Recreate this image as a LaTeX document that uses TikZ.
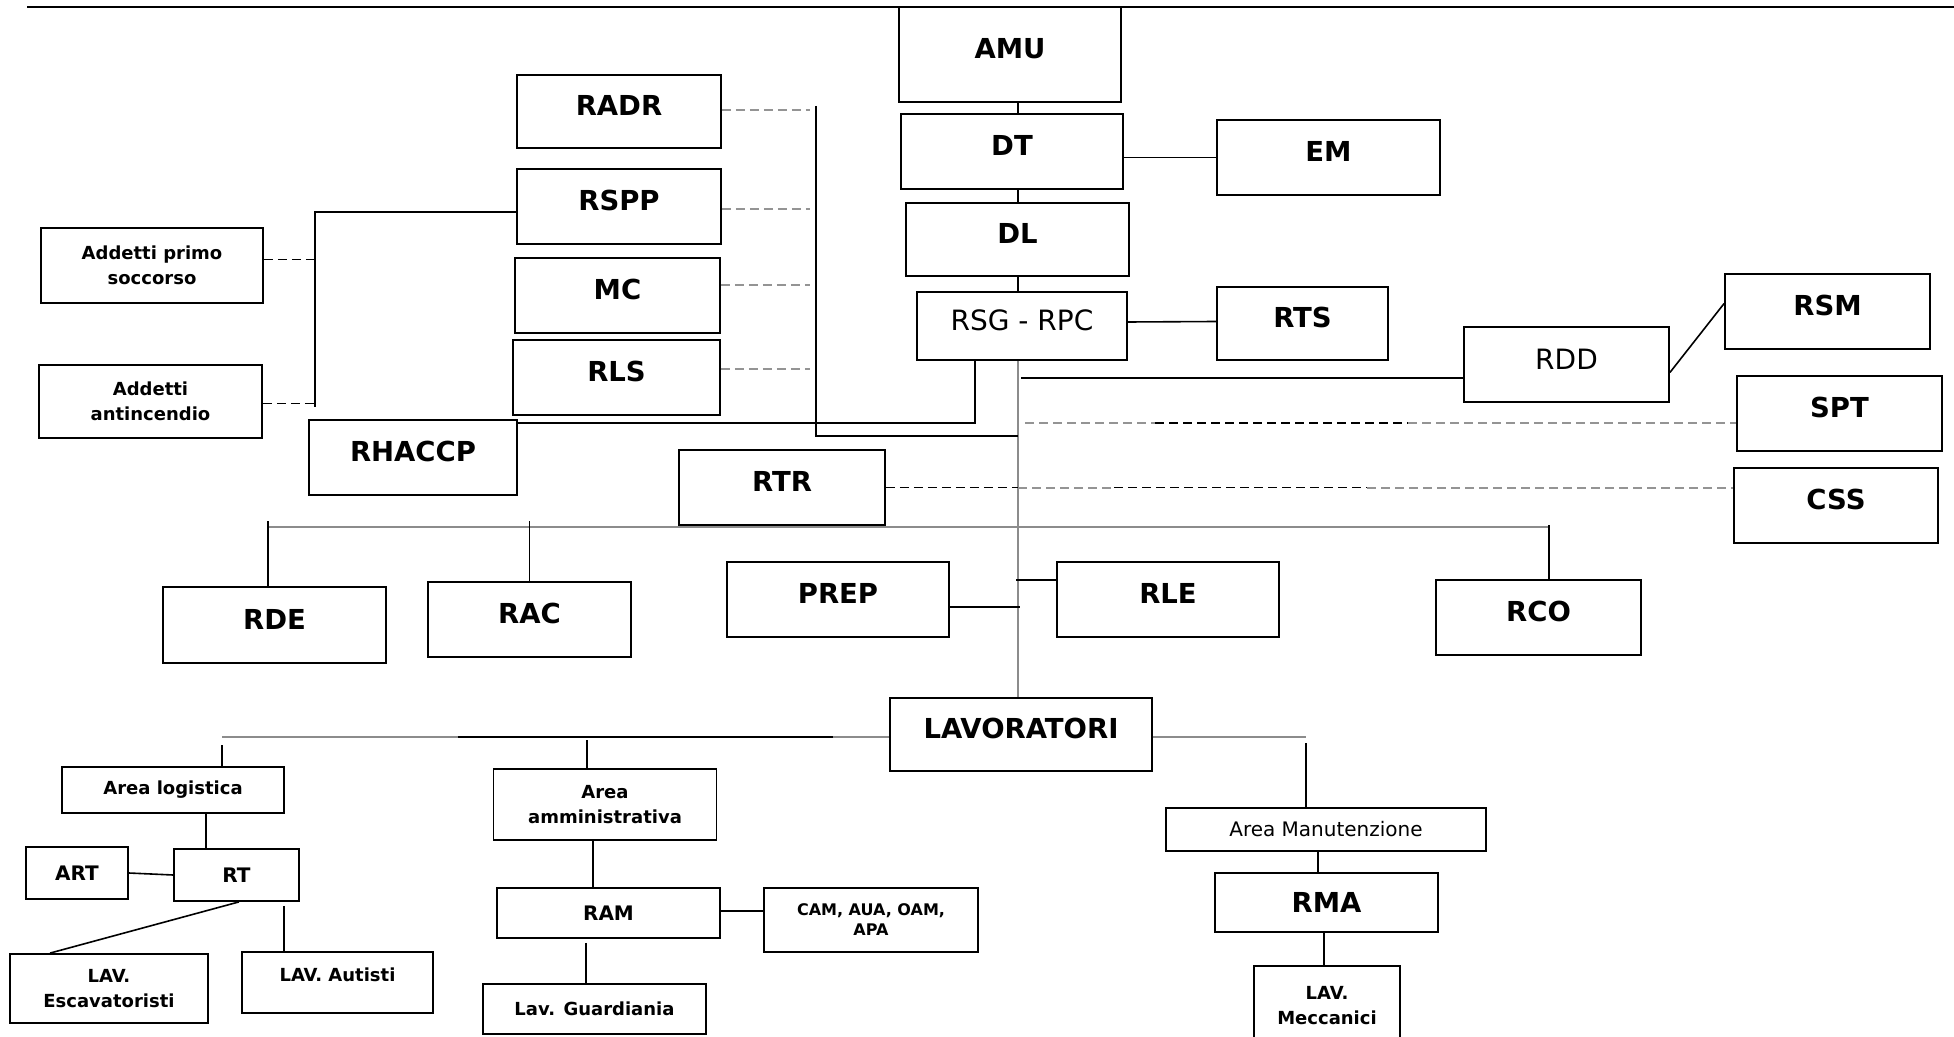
\documentclass[tikz,border=0pt]{standalone}
\usepackage{fontspec}
\setmainfont{DejaVu Sans}
\usepackage{xcolor}
\usetikzlibrary{calc}

\definecolor{linegray}{gray}{0.55}
\definecolor{dashgray}{gray}{0.58}

\tikzset{
	box/.style 2 args = {draw, line width = 0.9pt, inner sep = 0pt, align = center,
		minimum width = #1*0.5pt, minimum height = #2*0.5pt},
	bigtxt/.style = {font = \fontsize{13.75}{16}\selectfont\bfseries, text height = 10pt, text depth = 6pt},
	plaintxt/.style = {font = \fontsize{14}{16}\selectfont, text height = 10pt, text depth = 5pt},
	smalltxt/.style = {font = \fontsize{9}{12.5}\selectfont\bfseries},
	midtxt/.style = {font = \fontsize{10}{12.5}\selectfont\bfseries},
	tinytxt/.style = {font = \fontsize{8}{10}\selectfont\bfseries},
	conn/.style = {line width = 0.8pt},
	gray conn/.style = {line width = 0.9pt, linegray},
	gray dash/.style = {line width = 1pt, dashgray, dash pattern = on 4.5pt off 2.5pt},
	black dash/.style = {line width = 0.8pt, dash pattern = on 4.5pt off 2.5pt}
}

\begin{document}
\begin{tikzpicture}[x = 0.5pt, y = -0.5pt]
		\useasboundingbox (0,0) rectangle (1954,1037);
		
		\coordinate (rule left) at (27,7);
		\coordinate (rule right) at (1954,7);
		\draw [line width = 1pt] (rule left) -- (rule right);
		
		%main chain
		\node [box = {222}{95}, bigtxt] (amu) at (1010,54.5) {AMU};
		\node [box = {222}{75}, bigtxt] (dt) at (1012,151.5) {DT};
		\node [box = {223}{73}, bigtxt] (dl) at (1017.5,239.5) {DL};
		\node [box = {210}{68}, plaintxt] (rsg) at (1022,326) {RSG - RPC};
		\node [box = {223}{75}, bigtxt] (em) at (1328.5,157.5) {EM};
		\node [box = {171}{73}, bigtxt] (rts) at (1302.5,323.5) {RTS};
		\node [box = {205}{75}, plaintxt] (rdd) at (1566.5,364.5) {RDD};
		\node [box = {205}{75}, bigtxt] (rsm) at (1827.5,311.5) {RSM};
		\node [box = {205}{75}, bigtxt] (spt) at (1839.5,413.5) {SPT};
		\node [box = {204}{75}, bigtxt] (css) at (1836,505.5) {CSS};
		
		%staff
		\node [box = {204}{73}, bigtxt] (radr) at (619,111.5) {RADR};
		\node [box = {204}{75}, bigtxt] (rspp) at (619,206.5) {RSPP};
		\node [box = {205}{75}, bigtxt] (mc) at (617.5,295.5) {MC};
		\node [box = {207}{75}, bigtxt] (rls) at (616.5,377.5) {RLS};
		\node [box = {222}{75}, smalltxt] (primo) at (152,265.5) {Addetti primo\\soccorso};
		\node [box = {223}{73}, smalltxt] (antincendio) at (150.5,401.5) {Addetti\\antincendio};
		\node [box = {208}{75}, bigtxt] (rhaccp) at (413,457.5) {RHACCP};
		
		%middle row
		\node [box = {206}{75}, bigtxt] (rtr) at (782,487.5) {RTR};
		\node [box = {223}{76}, bigtxt] (rde) at (274.5,625) {RDE};
		\node [box = {203}{75}, bigtxt] (rac) at (529.5,619.5) {RAC};
		\node [box = {222}{75}, bigtxt] (prep) at (838,599.5) {PREP};
		\node [box = {222}{75}, bigtxt] (rle) at (1168,599.5) {RLE};
		\node [box = {205}{75}, bigtxt] (rco) at (1538.5,617.5) {RCO};
		\node [box = {262}{73}, bigtxt] (lav) at (1021,734.5) {LAVORATORI};
		
		%areas
		\node [box = {222}{46}, smalltxt] (logistica) at (173,790) {Area logistica};
		\node [box = {125}{52}, midtxt] (rt) at (236.5,875) {RT};
		\node [box = {102}{52}, midtxt] (art) at (77,873) {ART};
		\node [box = {198}{69}, smalltxt] (escavatoristi) at (109,988.5) {LAV.\\Escavatoristi};
		\node [box = {191}{61}, smalltxt, text height = 6.8pt, text depth = 7.5pt] (autisti) at (337.5,982.5) {LAV. Autisti};
		\node [box = {223}{71}, smalltxt] (amministrativa) at (605,804.5) {Area\\amministrativa};
		\node [box = {223}{50}, midtxt] (ram) at (608.5,913) {RAM};
		\node [box = {223}{50}, smalltxt] (guardiania) at (594.5,1009) {Lav. Guardiania};
		\node [box = {214}{64}, tinytxt] (cam) at (871,920) {CAM, AUA, OAM,\\APA};
		\node [box = {320}{43}, font = \fontsize{10}{12}\selectfont] (manutenzione) at (1326,829.5) {Area Manutenzione};
		\node [box = {223}{59}, bigtxt, text depth = 0pt] (rma) at (1326.5,902.5) {RMA};
		\node [box = {146}{79}, smalltxt] (meccanici) at (1327,1005.5) {LAV.\\Meccanici};
		
		%spine
		\coordinate (spine) at (1018,0);
		\draw [conn] (amu.south -| spine) -- (dt.north -| spine);
		\draw [conn] (dt.south -| spine) -- (dl.north -| spine);
		\draw [conn] (dl.south -| spine) -- (rsg.north -| spine);
		\draw [gray conn] (rsg.south -| spine) -- (lav.north -| spine);
		
		\draw [conn] ([yshift = -3pt]dt.east) -- (em.west);
		\draw [conn] ([yshift = 2pt]rsg.east) -- ([yshift = 1pt]rts.west);
		
		\coordinate (rhaccp bend) at (975,423);
		\draw [conn] (rsg.south -| rhaccp bend) |- (rhaccp.east |- rhaccp bend);
		
		%staff lines
		\coordinate (staff top) at (816,106);
		\coordinate (staff foot) at (816,436);
		\coordinate (staff dash) at (810,0);
		\draw [conn] (staff top) -- (staff foot) -- (staff foot -| spine);
		\foreach \n/\s in {radr/0.75, rspp/-1.25, mc/5, rls/4}
			\draw [gray dash] ([yshift = \s pt]\n.east) -- ([yshift = \s pt]\n.east -| staff dash);
		
		\coordinate (bracket top) at (315,212);
		\coordinate (bracket foot) at (315,407);
		\draw [conn] (bracket foot) -- (bracket top) -- (bracket top -| rspp.west);
		\draw [black dash] ([yshift = 3pt]primo.east) -- ([yshift = 3pt]primo.east -| bracket top);
		\draw [black dash] ([yshift = -1pt]antincendio.east) -- ([yshift = -1pt]antincendio.east -| bracket top);
		
		%right side
		\coordinate (rdd fork) at (1021,378);
		\draw [conn] (rdd fork) -- (rdd fork -| rdd.west);
		\draw [conn] ([yshift = -4pt]rdd.east) -- ([yshift = 4pt]rsm.west);
		
		\coordinate (spt fork) at (1025,423);
		\coordinate (spt mid a) at (1155,423);
		\coordinate (spt mid b) at (1408,423);
		\draw [gray dash] (spt fork) -- (spt mid a);
		\draw [black dash] (spt mid a) -- (spt mid b);
		\draw [gray dash] (spt mid b) -- (spt mid b -| spt.west);
		
		\coordinate (css mid a) at (1114,487.5);
		\coordinate (css mid b) at (1367,487.5);
		\draw [black dash] (rtr.east) -- (rtr.east -| spine);
		\draw [gray dash] (rtr.east -| spine) -- (css mid a);
		\draw [black dash] (css mid a) -- (css mid b);
		\draw [gray dash] (css mid b) -- (css mid b -| css.west);
		
		%row under rtr
		\coordinate (row left) at (268,527);
		\coordinate (row right) at (1549,527);
		\draw [gray conn] (row left) -- (row right);
		\draw [conn] ([yshift = 3pt]row left) -- (row left |- rde.north);
		\draw [conn] ([yshift = 3pt]rac.north |- row left) -- (rac.north);
		\draw [conn] ([yshift = 1pt]row right) -- (row right |- rco.north);
		
		\coordinate (prep fork) at (1020,607);
		\draw [conn] (prep fork -| prep.east) -- (prep fork);
		\coordinate (rle fork) at (1016,580);
		\draw [conn] (rle fork) -- (rle fork -| rle.west);
		
		%workers
		\coordinate (lav left) at (222,737);
		\coordinate (lav dark a) at (458,737);
		\coordinate (lav dark b) at (833,737);
		\coordinate (lav right) at (1306,737);
		\draw [gray conn] (lav left) -- (lav dark a);
		\draw [conn] (lav dark a) -- (lav dark b);
		\draw [gray conn] (lav dark b) -- (lav dark b -| lav.west);
		\draw [gray conn] (lav right -| lav.east) -- (lav right);
		
		\draw [conn] ([yshift = -4pt]lav left) -- (lav left |- logistica.north);
		\coordinate (amm drop) at (587,740);
		\draw [conn] (amm drop) -- (amm drop |- amministrativa.north);
		\draw [conn] ([yshift = -3pt]lav right) -- (lav right |- manutenzione.north);
		
		\draw [conn] ([xshift = 16.5pt]logistica.south) -- ([xshift = 16.5pt]logistica.south |- rt.north);
		\draw [conn] (art.east) -- (rt.west);
		\draw [conn] ([xshift = 1.25pt]rt.south) -- ([xshift = -29.5pt]escavatoristi.north);
		\draw [conn] ([xshift = 23.75pt, yshift = -2pt]rt.south) -- ([xshift = 23.75pt]rt.south |- autisti.north);
		
		\draw [conn] ([xshift = -6pt]amministrativa.south) -- ([xshift = -6pt]amministrativa.south |- ram.north);
		\draw [conn] ([xshift = -11.25pt, yshift = -2pt]ram.south) -- ([xshift = -11.25pt]ram.south |- guardiania.north);
		\draw [conn] ([yshift = 1pt]ram.east) -- ([yshift = 1pt]ram.east -| cam.west);
		
		\draw [conn] ([xshift = -4pt]manutenzione.south) -- ([xshift = -4pt]manutenzione.south |- rma.north);
		\draw [conn] ([xshift = -1.25pt]rma.south) -- ([xshift = -1.25pt]rma.south |- meccanici.north);
	\end{tikzpicture}
\end{document}
